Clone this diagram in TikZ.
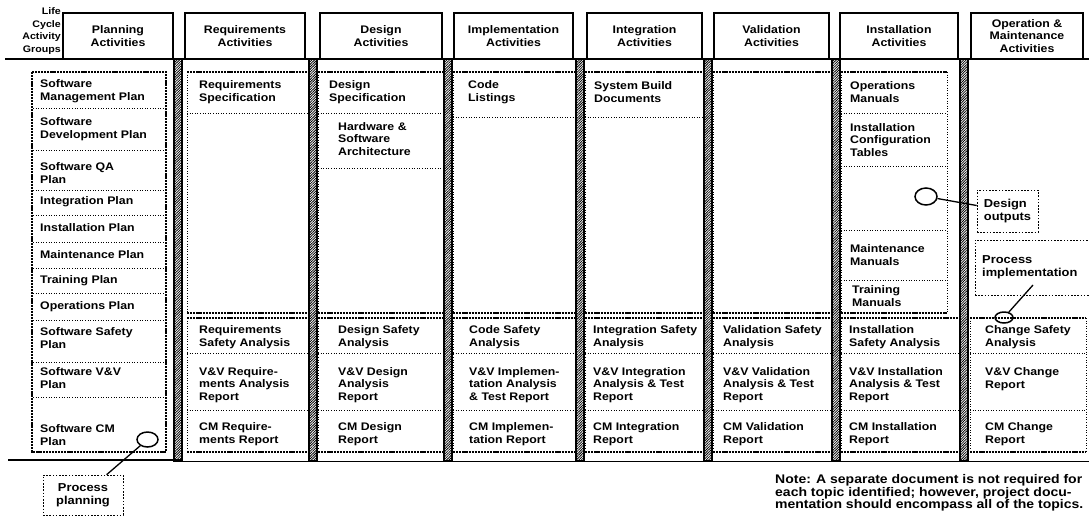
\documentclass[tikz,border=0pt]{standalone}
\usepackage{fontspec}
\setmainfont{Liberation Sans}[FakeStretch=1.12]
\usetikzlibrary{shapes.geometric,patterns.meta}
\tikzset{
  txt/.style={font=\fontsize{11}{12.5}\selectfont\bfseries, align=left, anchor=west, inner sep=0pt},
  hdr/.style={draw, line width=1.1pt, font=\fontsize{11}{12.5}\selectfont\bfseries, align=center, minimum height=46pt, inner sep=0pt},
  heavy/.style={line width=1.5pt, dash pattern=on 2.2pt off 0.9pt},
  thinsep/.style={line width=0.6pt, dash pattern=on 1pt off 1.6pt},
  hbar/.style={draw, line width=1.2pt, pattern={Lines[angle=45,distance=1.8pt,line width=0.8pt]}},
  ring/.style={ellipse, draw, line width=1.5pt, inner sep=0pt},
  frame/.style={draw, line width=0.7pt, dash pattern=on 1.6pt off 1.6pt, inner sep=0pt},
  conn/.style={line width=1.3pt},
}
\begin{document}
\begin{tikzpicture}[x=1pt,y=-1pt]
\useasboundingbox (0,0) rectangle (1089,517);
\clip (0,0) rectangle (1089,517);
\fill[white] (0,0) rectangle (1089,517);

% ---------- header ----------
\node[font=\fontsize{9.5}{12.5}\selectfont\bfseries, align=right, anchor=east, inner sep=0pt] (lcag) at (61,31) {Life\\Cycle\\Activity\\Groups};
\node[hdr, minimum width=110pt] (hPlan) at (118,36) {Planning\\Activities};
\node[hdr, minimum width=120pt] (hReq) at (245,36) {Requirements\\Activities};
\node[hdr, minimum width=122pt] (hDes) at (381,36) {Design\\Activities};
\node[hdr, minimum width=119pt] (hImp) at (513.5,36) {Implementation\\Activities};
\node[hdr, minimum width=115pt] (hInt) at (644.5,36) {Integration\\Activities};
\node[hdr, minimum width=115pt] (hVal) at (771.5,36) {Validation\\Activities};
\node[hdr, minimum width=118pt] (hIns) at (899,36) {Installation\\Activities};
\node[hdr, minimum width=112pt] (hOp) at (1027,36) {Operation \&\\Maintenance\\Activities};
\draw[line width=1.6pt] (5,59) -- (1089,59);

% ---------- bottom line ----------
\draw[line width=1.6pt] (8,460) -- (183,460);
\draw[line width=1pt] (183,461) -- (1089,461);

% ---------- hatched separators ----------
\foreach \c in {178,313,448,580,708,836,964}
  \draw[hbar] ({\c-4},59) rectangle ({\c+4},461);

% ---------- planning column ----------
\draw[heavy] (32,72) rectangle (166,452);
\foreach \y in {108,150,190,215,242,268,293,320,362,397}
  \draw[thinsep] (33,\y) -- (165,\y);

% ---------- upper regions ----------
\foreach \a/\b in {187/308,318/443,453/575,585/703,713/831,841/947} {
  \draw[heavy] (\a,72) -- (\b,72);
  \draw[heavy] (\a,313) -- (\b,313);
  \draw[thinsep] (\a,72) -- (\a,313) (\b,72) -- (\b,313);
}
\draw[thinsep] (187,113) -- (308,113);
\draw[thinsep] (318,113) -- (443,113) (318,168) -- (443,168);
\draw[thinsep] (453,117) -- (575,117);
\draw[thinsep] (585,117) -- (703,117);
\foreach \y in {113,166,230,280}
  \draw[thinsep] (841,\y) -- (947,\y);

% ---------- lower regions ----------
\foreach \a/\b in {187/308,318/443,453/575,585/703,713/831,841/959,970/1086} {
  \draw[heavy] (\a,318) -- (\b,318);
  \draw[heavy] (\a,452) -- (\b,452);
  \draw[thinsep] (\a,318) -- (\a,452) (\b,318) -- (\b,452);
  \draw[thinsep] (\a,353) -- (\b,353) (\a,410) -- (\b,410);
}

% ---------- planning texts ----------
\node[txt] (pl1) at (40,91) {Software\\Management Plan};
\node[txt] (pl2) at (40,129) {Software\\Development Plan};
\node[txt] (pl3) at (40,173) {Software QA\\Plan};
\node[txt] (pl4) at (40,202) {Integration Plan};
\node[txt] (pl5) at (40,228) {Installation Plan};
\node[txt] (pl6) at (40,255) {Maintenance Plan};
\node[txt] (pl7) at (40,281) {Training Plan};
\node[txt] (pl8) at (40,307) {Operations Plan};
\node[txt] (pl9) at (40,338) {Software Safety\\Plan};
\node[txt] (pl10) at (40,378) {Software V\&V\\Plan};
\node[txt] (pl11) at (40,435) {Software CM\\Plan};

% ---------- requirements ----------
\node[txt] (rq1) at (199,92) {Requirements\\Specification};
\node[txt] (rq2) at (199,337) {Requirements\\Safety Analysis};
\node[txt] (rq3) at (199,385) {V\&V Require-\\ments Analysis\\Report};
\node[txt] (rq4) at (199,434) {CM Require-\\ments Report};

% ---------- design ----------
\node[txt] (ds1) at (329,92) {Design\\Specification};
\node[txt] (ds2) at (338,139) {Hardware \&\\Software\\Architecture};
\node[txt] (ds3) at (338,337) {Design Safety\\Analysis};
\node[txt] (ds4) at (338,385) {V\&V Design\\Analysis\\Report};
\node[txt] (ds5) at (338,434) {CM Design\\Report};

% ---------- implementation ----------
\node[txt] (im1) at (468,92) {Code\\Listings};
\node[txt] (im2) at (469,337) {Code Safety\\Analysis};
\node[txt] (im3) at (469,385) {V\&V Implemen-\\tation Analysis\\\& Test Report};
\node[txt] (im4) at (469,434) {CM Implemen-\\tation Report};

% ---------- integration ----------
\node[txt] (in1) at (594,92) {System Build\\Documents};
\node[txt] (in2) at (593,337) {Integration Safety\\Analysis};
\node[txt] (in3) at (593,385) {V\&V Integration\\Analysis \& Test\\Report};
\node[txt] (in4) at (593,434) {CM Integration\\Report};

% ---------- validation ----------
\node[txt] (va1) at (723,337) {Validation Safety\\Analysis};
\node[txt] (va2) at (723,385) {V\&V Validation\\Analysis \& Test\\Report};
\node[txt] (va3) at (723,434) {CM Validation\\Report};

% ---------- installation ----------
\node[txt] (is1) at (850,92) {Operations\\Manuals};
\node[txt] (is2) at (850,140) {Installation\\Configuration\\Tables};
\node[txt] (is3) at (850,255) {Maintenance\\Manuals};
\node[txt] (is4) at (852,296) {Training\\Manuals};
\node[txt] (is5) at (849,337) {Installation\\Safety Analysis};
\node[txt] (is6) at (849,385) {V\&V Installation\\Analysis \& Test\\Report};
\node[txt] (is7) at (849,434) {CM Installation\\Report};

% ---------- operation ----------
\node[txt] (op1) at (985,337) {Change Safety\\Analysis};
\node[txt] (op2) at (985,379) {V\&V Change\\Report};
\node[txt] (op3) at (985,434) {CM Change\\Report};

% ---------- callouts ----------
\node[ring, minimum width=21pt, minimum height=15pt] (eP) at (147.5,439.5) {};
\node[frame, minimum width=80pt, minimum height=40pt, align=center,
      font=\fontsize{11.5}{13}\selectfont\bfseries] (ppl) at (83,495) {Process\\planning};
\draw[conn] (eP) -- (ppl);

\node[ring, minimum width=22pt, minimum height=17pt] (eD) at (926,196.5) {};
\node[frame, minimum width=61pt, minimum height=42pt, align=left,
      font=\fontsize{11.5}{13}\selectfont\bfseries] (dout) at (1007.5,211) {Design\\outputs};
\draw[conn] (eD) -- (dout);

\node[frame, minimum width=120pt, minimum height=55pt] (pimpbox) at (1035,267.5) {};
\node[txt, font=\fontsize{11.5}{13}\selectfont\bfseries] (pimp) at (982,267) {Process\\implementation};
\node[ring, minimum width=18pt, minimum height=11pt] (eI) at (1004,317.5) {};
\coordinate (pimpEnd) at (1033,285);
\draw[conn] (eI) -- (pimpEnd);

% ---------- note ----------
\node[txt, font=\fontsize{12.5}{12.5}\selectfont\bfseries] (note) at (775,493)
  {Note: A separate document is not required for\\each topic identified; however, project docu-\\mentation should encompass all of the topics.};
\end{tikzpicture}
\end{document}
